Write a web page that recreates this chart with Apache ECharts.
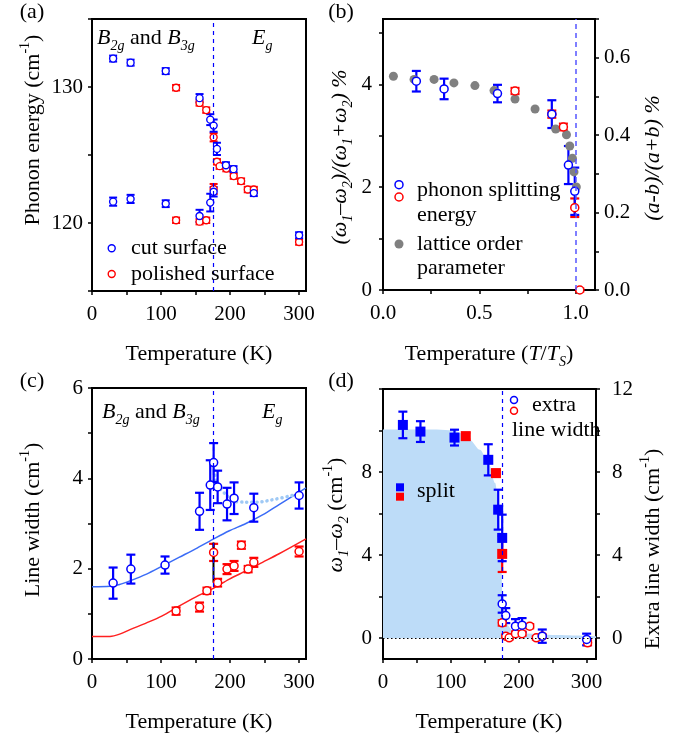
<!DOCTYPE html>
<html><head><meta charset="utf-8">
<script src="https://cdn.jsdelivr.net/npm/echarts@6/dist/echarts.min.js"></script>
<style>html,body{margin:0;padding:0;background:#fff}#c{width:674px;height:733px}</style>
</head><body><div id="c"></div>
<script>
// ---------- Panel (a): phonon energy ----------
const aCutT   = [30.6, 55.9, 106.8, 155.8, 171.3, 176.2, 181, 194, 205, 234.4, 300, 30.6, 55.9, 106.8, 155.8, 171.3, 176.2];
const aCutE   = [132.09, 131.79, 131.17, 129.18, 127.6, 127.16, 125.45, 124.25, 123.96, 122.2, 119.1, 121.57, 121.77, 121.42, 120.52, 121.5, 122.3];
const aCutErr = [0.22, 0.22, 0.22, 0.3, 0.4, 0.45, 0.45, 0.22, 0.22, 0.22, 0.22, 0.3, 0.3, 0.25, 0.45, 0.65, 0.35];
const aPolT   = [121.8, 155.8, 165.5, 176.2, 181, 184.9, 194.6, 205.3, 216, 225.6, 234.4, 300, 121.8, 155.8, 165.5, 176.2];
const aPolE   = [129.95, 128.83, 128.3, 126.3, 124.5, 124.18, 124.0, 123.45, 123.08, 122.46, 122.46, 118.6, 120.2, 120.1, 120.2, 122.5];
const aPolErr = [0.2, 0.2, 0.2, 0.3, 0.2, 0.2, 0.2, 0.2, 0.2, 0.2, 0.2, 0.2, 0.2, 0.2, 0.2, 0.37];

// ---------- Panel (b): relative splitting vs T/Ts ----------
const bBlueX   = [0.173, 0.317, 0.594, 0.876, 0.962, 0.995];
const bBlueY   = [4.06, 3.91, 3.82, 3.42, 2.43, 1.92];
const bBlueErr = [0.2, 0.2, 0.17, 0.27, 0.37, 0.46];
const bRedX    = [0.685, 0.876, 0.936, 0.995, 1.021];
const bRedY    = [3.87, 3.42, 3.17, 1.60, 0.0];
const bRedErr  = [0.06, 0.07, 0.065, 0.18, 0.03];
const bGreyX   = [0.054, 0.161, 0.265, 0.368, 0.477, 0.576, 0.685, 0.789, 0.896, 0.952, 0.969, 0.983, 0.991, 1.003];
const bGreyY   = [0.552, 0.544, 0.544, 0.535, 0.528, 0.515, 0.4935, 0.4675, 0.416, 0.401, 0.372, 0.340, 0.305, 0.266];

// ---------- Panel (c): line width ----------
const cBlueT   = [30.6, 56.3, 105.8, 155.8, 171.3, 176.2, 182, 195.6, 205.8, 234.4, 300];
const cBlueW   = [1.68, 1.99, 2.08, 3.27, 3.85, 4.35, 3.81, 3.43, 3.56, 3.35, 3.62];
const cBlueErr = [0.345, 0.32, 0.19, 0.41, 0.55, 0.43, 0.36, 0.36, 0.35, 0.31, 0.29];
const cRedT    = [121.8, 155.8, 166.5, 176.2, 182, 195.6, 205.8, 216.4, 226.2, 234.4, 300];
const cRedW    = [1.06, 1.15, 1.51, 2.36, 1.69, 1.99, 2.06, 2.52, 1.99, 2.14, 2.38];
const cRedErr  = [0.08, 0.1, 0.07, 0.19, 0.085, 0.11, 0.11, 0.08, 0.07, 0.1, 0.11];
const cFitT    = [0, 26, 40, 55, 79, 101, 126, 150, 175, 199, 223, 247, 271, 310];
const cFitBlue = [1.60, 1.61, 1.65, 1.73, 1.88, 2.05, 2.25, 2.44, 2.65, 2.84, 3.00, 3.19, 3.42, 3.79];
const cFitRed  = [0.50, 0.50, 0.55, 0.65, 0.80, 0.95, 1.17, 1.37, 1.56, 1.77, 1.95, 2.14, 2.33, 2.66];
const cDotT    = [177, 180, 185, 190, 200, 210, 234, 263, 300];
const cDotW    = [4.18, 3.95, 3.78, 3.70, 3.56, 3.48, 3.47, 3.53, 3.66];
const cBarT    = [176, 176];
const cBarW    = [2.58, 1.69];

// ---------- Panel (d): splitting and extra line width ----------
const dFillT = [0, 30.7, 79.5, 104, 118, 128, 143, 155.6, 165.4, 170.3, 173.7, 176.1, 180, 192.2, 211.7, 250.7, 314];
const dFillV = [10.05, 10.05, 10.05, 10.0, 9.85, 9.55, 9.07, 8.43, 7.47, 6.51, 4.59, 2.18, 0.74, 0.34, 0.23, 0.16, 0.10];
const dSplitBlueT = [29.3, 55.2, 105.4, 155.2, 169.8, 175.7];
const dSplitBlueV = [10.27, 9.95, 9.66, 8.59, 6.19, 4.83];
const dSplitBlueE = [0.64, 0.5, 0.38, 0.75, 0.96, 1.12];
const dSplitRedT  = [122, 166.5, 175.7];
const dSplitRedV  = [9.73, 7.95, 4.06];
const dSplitRedE  = [0.16, 0.16, 0.87];
const dExtraBlueT = [175.7, 181, 195.3, 205, 234.8, 300.2];
const dExtraBlueV = [1.65, 1.09, 0.58, 0.63, 0.10, -0.06];
const dExtraBlueE = [0.42, 0.36, 0.34, 0.34, 0.32, 0.28];
const dExtraRedT  = [175.7, 181, 186, 195.3, 205, 216.3, 226, 234.8, 301.6];
const dExtraRedV  = [0.74, 0.10, 0.02, 0.22, 0.22, 0.58, 0.02, 0.10, -0.22];
const dExtraRedE  = [0.13, 0.08, 0.08, 0.1, 0.1, 0.1, 0.08, 0.08, 0.12];

const TS = 176;

// ticks / labels
const tTicks = [0, 50, 100, 150, 200, 250, 300];
const tLabels = [0, 100, 200, 300];
const aYTicks = [115, 120, 125, 130, 135];
const aYLabels = [120, 130];
const bXTicks = [0, 0.25, 0.5, 0.75, 1.0];
const bXLabels = [0, 0.5, 1.0];
const bYTicks = [0, 1, 2, 3, 4, 5];
const bYLabels = [0, 2, 4];
const bRTicks = [0, 0.1, 0.2, 0.3, 0.4, 0.5, 0.6, 0.7];
const bRLabels = [0, 0.2, 0.4, 0.6];
const cYTicks = [0, 1, 2, 3, 4, 5, 6];
const cYLabels = [0, 2, 4, 6];
const dYTicks = [0, 2, 4, 6, 8, 10, 12];
const dYLabelsL = [0, 4, 8];
const dYLabelsR = [0, 4, 8, 12];

const FONT = 'Liberation Serif';
const BLUE = '#0000ff', RED = '#ff0000';

const zip2 = (a, b) => a.map((v, i) => [v, b[i]]);
const zip3 = (a, b, c) => a.map((v, i) => [v, b[i], c[i]]);

function axis(o) {
  const base = {
    type: 'value',
    axisLine: {show: true, onZero: false, lineStyle: {color: '#000', width: 2}},
    axisTick: {show: true, inside: false, length: 4, lineStyle: {color: '#000', width: 1.5}, customValues: o.ticks},
    axisLabel: {show: true, color: '#000', fontFamily: FONT, fontSize: 21, margin: o.margin || 9,
      customValues: o.labels, formatter: o.fmt || (v => String(v))},
    splitLine: {show: false},
    min: o.min, max: o.max, interval: o.interval
  };
  delete o.ticks; delete o.labels; delete o.fmt; delete o.margin;
  return Object.assign(base, o);
}

function errSeries(xi, yi, T, V, E, color, lw, cap) {
  return {
    type: 'custom', xAxisIndex: xi, yAxisIndex: yi, data: zip3(T, V, E),
    encode: {x: 0, y: 1}, z: 3, silent: true,
    renderItem: (p, api) => {
      const x = api.value(0), y = api.value(1), e = api.value(2);
      const a = api.coord([x, y + e]), b = api.coord([x, y - e]);
      const h = cap / 2, st = {stroke: color, lineWidth: lw};
      return {type: 'group', children: [
        {type: 'line', shape: {x1: a[0], y1: a[1], x2: b[0], y2: b[1]}, style: st},
        {type: 'line', shape: {x1: a[0] - h, y1: a[1], x2: a[0] + h, y2: a[1]}, style: st},
        {type: 'line', shape: {x1: b[0] - h, y1: b[1], x2: b[0] + h, y2: b[1]}, style: st}
      ]};
    }
  };
}
function sc(xi, yi, T, V, o) {
  return {type: 'scatter', xAxisIndex: xi, yAxisIndex: yi, data: zip2(T, V),
    symbol: o.symbol || 'circle', symbolSize: o.size, z: 4, silent: true,
    itemStyle: {color: o.fill, borderColor: o.stroke || o.fill, borderWidth: o.bw || 0, opacity: 1}};
}
function vline(xi, yi, x, color, width, dash) {
  return {type: 'line', xAxisIndex: xi, yAxisIndex: yi, data: [], silent: true, z: 2,
    markLine: {silent: true, symbol: 'none', animation: false, label: {show: false},
      lineStyle: {color: color, width: width, type: dash}, data: [{xAxis: x}]}};
}

const RICH = {
  r: {fontFamily: FONT, fontSize: 22, lineHeight: 30},
  i: {fontFamily: FONT, fontSize: 22, fontStyle: 'italic', lineHeight: 30},
  sub: {fontFamily: FONT, fontSize: 14, verticalAlign: 'bottom'},
  isub: {fontFamily: FONT, fontSize: 14, fontStyle: 'italic', verticalAlign: 'bottom'},
  sup: {fontFamily: FONT, fontSize: 14, verticalAlign: 'top'}
};
function txt(x, y, text, o = {}) {
  return {type: 'text', x: x, y: y, rotation: o.rot || 0, z: 100, silent: true,
    style: {text: text, fill: '#000', fontFamily: FONT, fontSize: 22, lineHeight: 30,
      align: o.align || 'center', verticalAlign: 'middle', rich: RICH}};
}
function circ(cx, cy, r, fill, stroke, lw) {
  return {type: 'circle', z: 100, silent: true, shape: {cx, cy, r}, style: {fill, stroke, lineWidth: lw || 0}};
}
function sq(cx, cy, s, fill) {
  return {type: 'rect', z: 100, silent: true, shape: {x: cx - s / 2, y: cy - s / 2, width: s, height: s}, style: {fill}};
}

const gridBase = {show: true, borderColor: '#000', borderWidth: 2, backgroundColor: 'transparent', containLabel: false, outerBoundsMode: 'none'};

const option = {
  animation: false,
  backgroundColor: '#fff',
  grid: [
    Object.assign({left: 92, top: 19, width: 214, height: 272}, gridBase),
    Object.assign({left: 383, top: 19, width: 212, height: 271}, gridBase),
    Object.assign({left: 92, top: 388, width: 214, height: 271}, gridBase),
    Object.assign({left: 383, top: 389, width: 213, height: 270}, gridBase)
  ],
  xAxis: [
    axis({gridIndex: 0, min: 0, max: 310, interval: 50, ticks: tTicks, labels: tLabels, margin: 13}),
    axis({gridIndex: 1, min: 0, max: 1.1, interval: 0.25, ticks: bXTicks, labels: bXLabels, margin: 13, fmt: v => v.toFixed(1)}),
    axis({gridIndex: 2, min: 0, max: 310, interval: 50, ticks: tTicks, labels: tLabels, margin: 13}),
    axis({gridIndex: 3, min: 0, max: 314, interval: 50, ticks: tTicks, labels: tLabels, margin: 13})
  ],
  yAxis: [
    axis({gridIndex: 0, min: 115, max: 135, interval: 5, ticks: aYTicks, labels: aYLabels}),
    axis({gridIndex: 1, min: 0, max: 5.27, interval: 1, ticks: bYTicks, labels: bYLabels, margin: 11}),
    axis({gridIndex: 1, position: 'right', min: 0, max: 0.7, interval: 0.1, ticks: bRTicks, labels: bRLabels, margin: 9, fmt: v => v.toFixed(1)}),
    axis({gridIndex: 2, min: 0, max: 6, interval: 1, ticks: cYTicks, labels: cYLabels}),
    axis({gridIndex: 3, min: -1, max: 12, interval: 1, ticks: dYTicks, labels: dYLabelsL, margin: 11}),
    axis({gridIndex: 3, position: 'right', min: -1, max: 12, interval: 1, ticks: dYTicks, labels: dYLabelsR, margin: 16})
  ],
  series: [
    // (a)
    vline(0, 0, TS, BLUE, 1.2, [4, 4]),
    errSeries(0, 0, aPolT, aPolE, aPolErr, RED, 2, 8),
    errSeries(0, 0, aCutT, aCutE, aCutErr, BLUE, 2, 8),
    sc(0, 0, aPolT, aPolE, {size: 7, fill: '#fff', stroke: RED, bw: 1.4}),
    sc(0, 0, aCutT, aCutE, {size: 7, fill: '#fff', stroke: BLUE, bw: 1.4}),
    // (b)
    vline(1, 1, 1.0, '#5555ff', 1.5, [5, 4]),
    sc(1, 2, bGreyX, bGreyY, {size: 9, fill: '#808080'}),
    errSeries(1, 1, bRedX, bRedY, bRedErr, RED, 2.2, 9),
    errSeries(1, 1, bBlueX, bBlueY, bBlueErr, BLUE, 2.2, 9),
    sc(1, 1, bRedX, bRedY, {size: 8, fill: '#fff', stroke: RED, bw: 1.5}),
    sc(1, 1, bBlueX, bBlueY, {size: 8, fill: '#fff', stroke: BLUE, bw: 1.5}),
    // (c)
    vline(2, 3, TS, BLUE, 1.2, [4, 4]),
    {type: 'line', xAxisIndex: 2, yAxisIndex: 3, data: zip2(cFitT, cFitBlue), smooth: 0.3, showSymbol: false, silent: true, z: 2,
      lineStyle: {color: '#3b6cf6', width: 1.5}},
    {type: 'line', xAxisIndex: 2, yAxisIndex: 3, data: zip2(cFitT, cFitRed), smooth: 0.3, showSymbol: false, silent: true, z: 2,
      lineStyle: {color: '#ff2020', width: 1.5}},
    {type: 'line', xAxisIndex: 2, yAxisIndex: 3, data: zip2(cDotT, cDotW), smooth: 0.4, showSymbol: false, silent: true, z: 2,
      lineStyle: {color: '#9fc9f5', width: 3.5, type: [0.1, 5], cap: 'round'}},
    {type: 'line', xAxisIndex: 2, yAxisIndex: 3, data: zip2(cBarT, cBarW), showSymbol: false, silent: true, z: 3,
      lineStyle: {color: '#000', width: 2}},
    errSeries(2, 3, cRedT, cRedW, cRedErr, RED, 2.2, 9),
    errSeries(2, 3, cBlueT, cBlueW, cBlueErr, BLUE, 2.2, 9),
    sc(2, 3, cRedT, cRedW, {size: 8, fill: '#fff', stroke: RED, bw: 1.5}),
    sc(2, 3, cBlueT, cBlueW, {size: 8, fill: '#fff', stroke: BLUE, bw: 1.5}),
    // (d)
    {type: 'line', xAxisIndex: 3, yAxisIndex: 4, data: zip2(dFillT, dFillV), smooth: 0.3, smoothMonotone: 'x', showSymbol: false, silent: true, z: 1,
      lineStyle: {width: 0, color: '#bddcf8'}, areaStyle: {color: '#bddcf8', opacity: 1, origin: 0}},
    {type: 'line', xAxisIndex: 3, yAxisIndex: 4, data: [], silent: true, z: 2,
      markLine: {silent: true, symbol: 'none', animation: false, label: {show: false},
        lineStyle: {color: '#000', width: 1, type: [1.5, 2.5]}, data: [{yAxis: 0}]}},
    vline(3, 4, TS, BLUE, 1.2, [4, 4]),
    errSeries(3, 4, dSplitRedT, dSplitRedV, dSplitRedE, RED, 2.2, 9),
    errSeries(3, 4, dSplitBlueT, dSplitBlueV, dSplitBlueE, BLUE, 2.2, 9),
    sc(3, 4, dSplitRedT, dSplitRedV, {symbol: 'rect', size: 10, fill: RED}),
    sc(3, 4, dSplitBlueT, dSplitBlueV, {symbol: 'rect', size: 10, fill: BLUE}),
    errSeries(3, 5, dExtraRedT, dExtraRedV, dExtraRedE, RED, 2.2, 9),
    errSeries(3, 5, dExtraBlueT, dExtraBlueV, dExtraBlueE, BLUE, 2.2, 9),
    sc(3, 5, dExtraRedT, dExtraRedV, {size: 8, fill: '#fff', stroke: RED, bw: 1.5}),
    sc(3, 5, dExtraBlueT, dExtraBlueV, {size: 8, fill: '#fff', stroke: BLUE, bw: 1.5})
  ],
  graphic: {elements: [
    // panel labels
    txt(32, 12, '{r|(a)}'), txt(341, 12, '{r|(b)}'), txt(32, 381, '{r|(c)}'), txt(341, 381, '{r|(d)}'),
    // (a)
    txt(33, 130, '{r|Phonon energy (cm}{sup|-1}{r|)}', {rot: Math.PI / 2}),
    txt(199, 354, '{r|Temperature (K)}'),
    txt(97, 38, '{i|B}{isub|2g}{r| and }{i|B}{isub|3g}', {align: 'left'}),
    txt(252, 38, '{i|E}{isub|g}', {align: 'left'}),
    circ(111.7, 248.3, 3.5, '#fff', BLUE, 1.4), txt(131, 248, '{r|cut surface}', {align: 'left'}),
    circ(111.7, 274, 3.5, '#fff', RED, 1.4), txt(131, 274, '{r|polished surface}', {align: 'left'}),
    // (b)
    txt(340, 157, '{i|(ω}{isub|1}{i|–ω}{isub|2}{i|)/(ω}{isub|1}{i|+ω}{isub|2}{i|) %}', {rot: Math.PI / 2}),
    txt(653, 158, '{i|(a-b)/(a+b) %}', {rot: Math.PI / 2}),
    txt(489, 354, '{r|Temperature (}{i|T}{r|/}{i|T}{isub|S}{r|)}'),
    circ(399, 184.7, 4, '#fff', BLUE, 1.5), circ(399, 197, 4, '#fff', RED, 1.5),
    txt(417, 190, '{r|phonon splitting}', {align: 'left'}),
    txt(417, 215, '{r|energy}', {align: 'left'}),
    circ(399, 244, 4.5, '#808080', '#808080', 0),
    txt(417, 244, '{r|lattice order}', {align: 'left'}),
    txt(417, 268, '{r|parameter}', {align: 'left'}),
    // (c)
    txt(33, 520, '{r|Line width (cm}{sup|-1}{r|)}', {rot: Math.PI / 2}),
    txt(199, 722, '{r|Temperature (K)}'),
    txt(102, 412, '{i|B}{isub|2g}{r| and }{i|B}{isub|3g}', {align: 'left'}),
    txt(262, 412, '{i|E}{isub|g}', {align: 'left'}),
    // (d)
    txt(336, 515, '{i|ω}{isub|1}{i|–ω}{isub|2}{r| (cm}{sup|-1}{r|)}', {rot: Math.PI / 2}),
    txt(653, 549, '{r|Extra line width (cm}{sup|-1}{r|)}', {rot: Math.PI / 2}),
    txt(489, 722, '{r|Temperature (K)}'),
    circ(514, 400, 3.5, '#fff', BLUE, 1.5), circ(514, 410.7, 3.5, '#fff', RED, 1.5),
    txt(532, 405.7, '{r|extra}', {align: 'left'}),
    txt(512, 430, '{r|line width}', {align: 'left'}),
    sq(400, 487.3, 8, BLUE), sq(400, 496.7, 8, RED),
    txt(417, 491, '{r|split}', {align: 'left'})
  ]}
};

const chart = echarts.init(document.getElementById('c'), null, {renderer: 'canvas'});
chart.setOption(option);
</script></body></html>
